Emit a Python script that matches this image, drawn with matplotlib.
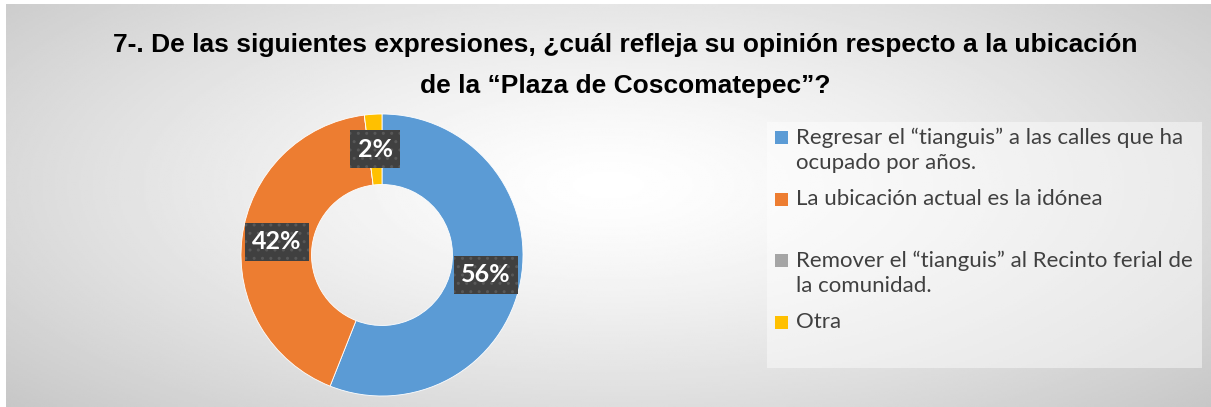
import textwrap
import numpy as np
import matplotlib.pyplot as plt
from matplotlib.patches import Rectangle

categories = [
    "Regresar el “tianguis” a las calles que ha ocupado por años.",
    "La ubicación actual es la idónea",
    "Remover el “tianguis” al Recinto ferial de la comunidad.",
    "Otra",
]
values = [56, 42, 0, 2]
colors = ["#5b9bd5", "#ed7d31", "#a5a5a5", "#ffc000"]
title = ("7-. De las siguientes expresiones, ¿cuál refleja su opinión respecto a la ubicación\n"
         "de la “Plaza de Coscomatepec”?")

W, H = 1211, 407
fig = plt.figure(figsize=(W / 100, H / 100), dpi=100)
fig.patch.set_facecolor("white")

# fondo con degradado radial
bg = fig.add_axes([6 / W, 0, 1 - 6 / W, 1 - 4 / H])
yy, xx = np.mgrid[0:1:200j, 0:1:600j]
r = np.sqrt(((xx - 0.5) / 0.75) ** 2 + ((yy - 0.45) / 0.9) ** 2)
g = 1 - 0.25 * np.clip(r, 0, 1) ** 1.3
bg.imshow(g, cmap="gray", vmin=0, vmax=1, aspect="auto", extent=[0, 1, 0, 1])
bg.axis("off")


def px(x, y):
    return x / W, 1 - y / H


# titulo
for i, ln in enumerate(title.split("\n")):
    fig.text(*px(625, 45 + 41 * i), ln, ha="center", va="center",
             fontsize=19, fontweight="bold", family="Liberation Sans")

# dona
R = 141
cx, cy = 382, 255
side = 2.2 * R
ax = fig.add_axes([(cx - side / 2) / W, (H - cy - side / 2) / H, side / W, side / H])
wedges, _ = ax.pie(values, colors=colors, startangle=90, counterclock=False,
                   radius=1, wedgeprops=dict(width=0.5, edgecolor="white", linewidth=0.6))
ax.set_xlim(-1.1, 1.1)
ax.set_ylim(-1.1, 1.1)
ax.set_aspect("equal")
ax.axis("off")

for w, v in zip(wedges, values):
    if v == 0:
        continue
    ang = np.deg2rad((w.theta1 + w.theta2) / 2)
    x, y = 0.75 * np.cos(ang), 0.75 * np.sin(ang)
    ax.text(x, y, f"{v}%", ha="center", va="center", color="white",
            fontsize=18, fontweight="bold", family="Lato",
            bbox=dict(boxstyle="square,pad=0.3", facecolor="#404040",
                      edgecolor="#585858", hatch="..", linewidth=0))

# leyenda
fig.patches.append(Rectangle(px(767, 368), 435 / W, 246 / H, transform=fig.transFigure,
                             facecolor="white", alpha=0.45, edgecolor="none"))
y0 = 138
for lab, c in zip(categories, colors):
    lines = textwrap.fill(lab, 42).split("\n")
    fig.patches.append(Rectangle(px(775, y0 + 6), 13 / W, 13 / H, transform=fig.transFigure,
                                 facecolor=c, edgecolor="none"))
    for i, ln in enumerate(lines):
        fig.text(*px(796, y0 + 25 * i), ln, ha="left", va="center",
                 fontsize=16, color="#404040", family="Lato")
    y0 += 61.5

fig.savefig("out.png", dpi=100)
